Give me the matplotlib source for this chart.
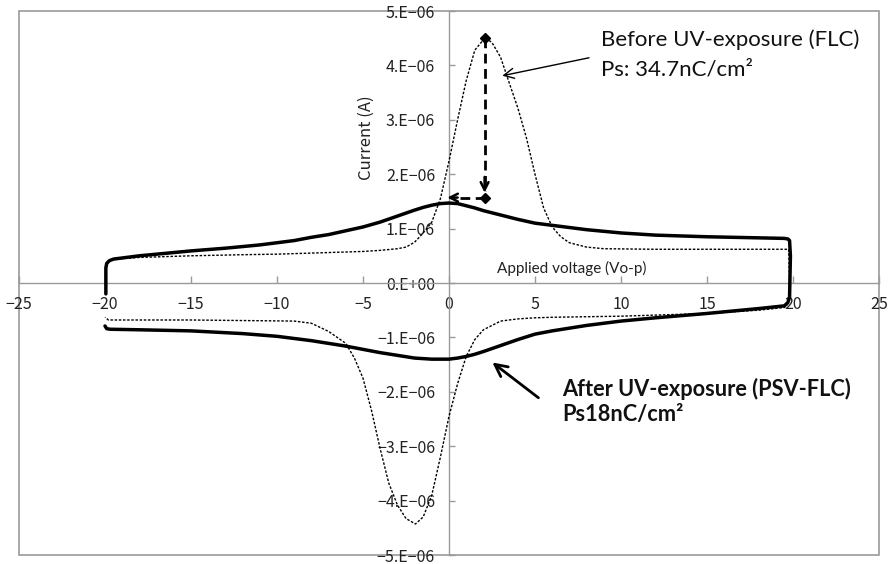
import matplotlib
matplotlib.use("Agg")
import matplotlib.pyplot as plt
from matplotlib.patches import Rectangle

# after UV-exposure (PSV-FLC), solid loop, current in 1e-6 A
v_after = [-19.95, -19.95, -19.9, -19.75, -19.5, -19, -18, -17, -15, -13, -12, -11, -10, -9, -8,
           -7, -6, -5, -4, -3, -2, -1.5, -1, -0.5, 0,
           0.5, 1, 1.5, 2, 3, 4, 5, 6, 7, 8, 10, 12, 15, 18, 19.5, 19.7, 19.8, 19.85, 19.8, 19.7, 19.5,
           18, 15, 12, 10, 8, 7, 6, 5, 4, 3, 2, 1.5, 1, 0.5, 0, -1, -2, -3, -4, -5, -6, -7, -8, -10,
           -12, -15, -18, -19.7, -19.9, -20.0]
i_after = [-0.2, 0.28, 0.36, 0.41, 0.44, 0.46, 0.50, 0.53, 0.59, 0.64, 0.67, 0.70, 0.74, 0.78, 0.84,
           0.89, 0.96, 1.03, 1.12, 1.23, 1.34, 1.39, 1.43, 1.46, 1.47,
           1.46, 1.42, 1.38, 1.33, 1.25, 1.17, 1.10, 1.06, 1.02, 0.98, 0.92, 0.88, 0.85, 0.83, 0.82, 0.81, 0.78, 0.5, -0.26, -0.36, -0.42,
           -0.47, -0.56, -0.64, -0.70, -0.78, -0.83, -0.88, -0.94, -1.04, -1.15, -1.26, -1.31, -1.35, -1.38, -1.40, -1.40, -1.38, -1.33, -1.28, -1.22, -1.16, -1.11, -1.06, -0.98,
           -0.93, -0.88, -0.86, -0.85, -0.84, -0.79]

# before UV-exposure (FLC), dashed loop
v_before = [-19.8, -19.5, -18, -15, -12, -10, -8, -6, -5, -4, -3, -2.5, -2, -1.5, -1, -0.5, 0,
            0.5, 1, 1.5, 2.1, 2.5, 3, 3.5, 4, 4.5, 5, 5.5, 6, 6.5, 7, 8, 9, 12, 15, 19.75,
            19.8, 19.75, 19.5, 18, 15, 12, 10, 8, 6, 5, 4, 3, 2.5, 2, 1.5, 1, 0.5, 0, -0.5,
            -1, -1.5, -1.95, -2.5, -3, -3.5, -4, -4.5, -5, -5.5, -6, -6.5, -7, -8, -9, -12,
            -15, -18, -19.8, -20.0]
i_before = [0.40, 0.44, 0.47, 0.50, 0.52, 0.53, 0.55, 0.57, 0.58, 0.60, 0.63, 0.66, 0.75, 0.92, 1.12, 1.55, 2.24,
            3.0, 3.72, 4.28, 4.51, 4.42, 4.15, 3.68, 3.22, 2.67, 2.0, 1.38, 1.03, 0.85, 0.74, 0.66, 0.63, 0.62, 0.62, 0.62,
            0.0, -0.36, -0.45, -0.50, -0.56, -0.59, -0.61, -0.62, -0.63, -0.64, -0.66, -0.70, -0.78, -0.86, -1.04, -1.35, -1.85, -2.45, -3.2,
            -3.9, -4.3, -4.43, -4.33, -4.08, -3.68, -3.05, -2.35, -1.75, -1.38, -1.11, -1.0, -0.89, -0.74, -0.70, -0.69,
            -0.68, -0.68, -0.68, -0.63]

x_ticks = [-25, -20, -15, -10, -5, 0, 5, 10, 15, 20, 25]
y_ticks = [-5e-6, -4e-6, -3e-6, -2e-6, -1e-6, 0, 1e-6, 2e-6, 3e-6, 4e-6, 5e-6]
y_labels = ["\u22125.E\u221206", "\u22124.E\u221206", "\u22123.E\u221206", "\u22122.E\u221206",
            "\u22121.E\u221206", "0.E+00", "1.E\u221206", "2.E\u221206", "3.E\u221206",
            "4.E\u221206", "5.E\u221206"]

ps_peak = 4.51e-6
ps_base = 1.57e-6
ps_v = 2.07

grey = "#9a9a9a"
tick_font = ["Noto Sans CJK JP", "DejaVu Sans"]

fig = plt.figure(figsize=(8.89, 5.64), dpi=100)
ax = fig.add_axes([19 / 889, 1 - 555 / 564, 860 / 889, 544 / 564])

ax.plot(v_before, [c * 1e-6 for c in i_before], color="black", lw=1.0,
        ls=(0, (1.8, 1.2)), zorder=3)
ax.plot(v_after, [c * 1e-6 for c in i_after], color="black", lw=2.5,
        solid_joinstyle="round", solid_capstyle="round", zorder=4)

ax.set_xlim(-25, 25)
ax.set_ylim(-5e-6, 5e-6)

# axis lines through the origin, plus the outer frame
for s in ["top", "right"]:
    ax.spines[s].set_visible(False)
for s in ["left", "bottom"]:
    ax.spines[s].set_position(("data", 0))
    ax.spines[s].set_color(grey)
    ax.spines[s].set_linewidth(1.0)
ax.add_patch(Rectangle((0, 0), 1, 1, transform=ax.transAxes, fill=False,
                       edgecolor=grey, lw=1.2, clip_on=False, zorder=1))

ax.set_xticks(x_ticks)
ax.set_xticklabels([str(t).replace("-", "\u2212") for t in x_ticks])
ax.set_yticks(y_ticks)
ax.set_yticklabels(y_labels)
ax.tick_params(axis="x", direction="in", length=5, width=1, color=grey, pad=9,
               labelsize=11.5)
ax.tick_params(axis="y", direction="in", length=4, width=1, color=grey, pad=10,
               labelsize=11.5)
for lab in ax.get_xticklabels() + ax.get_yticklabels():
    lab.set_family(tick_font)
    lab.set_color("#222222")

ax.text(-4.83, 2.68e-6, "Current (A)", rotation=90, ha="center", va="center",
        fontsize=12, family=tick_font, color="#222222")
ax.text(7.15, 0.26e-6, "Applied voltage (Vo-p)", ha="center", va="center",
        fontsize=11, family="Lato", color="#222222")

# Ps markers and dashed arrows
ax.plot([ps_v, ps_v], [ps_peak, ps_base], ls="none", marker="D", ms=5,
        color="black", zorder=5)
ax.plot([ps_v, ps_v], [ps_peak, 1.7e-6], color="black", lw=2, ls=(0, (3.5, 2)), zorder=5)
ax.annotate("", xy=(ps_v, 1.66e-6), xytext=(ps_v, 1.95e-6),
            arrowprops=dict(arrowstyle="->", lw=1.8, color="black",
                            mutation_scale=14, shrinkA=0, shrinkB=0))
ax.plot([ps_v, 0.1], [ps_base, ps_base], color="black", lw=2, ls=(0, (3.5, 2)), zorder=5)
ax.annotate("", xy=(-0.1, ps_base), xytext=(0.5, ps_base),
            arrowprops=dict(arrowstyle="->", lw=1.8, color="black",
                            mutation_scale=14, shrinkA=0, shrinkB=0))

# labels for the two curves
ax.annotate("", xy=(3.1, 3.81e-6), xytext=(8.14, 4.14e-6),
            arrowprops=dict(arrowstyle="->", lw=1.0, color="black",
                            mutation_scale=18, shrinkA=0, shrinkB=0))
ax.text(8.82, 4.47e-6, "Before UV-exposure (FLC)", ha="left", va="center",
        fontsize=16, family="Lato", color="#111111")
ax.text(8.82, 3.93e-6, "Ps: 34.7nC/cm\u00b2", ha="left", va="center",
        fontsize=16, family="Lato", color="#111111")

ax.annotate("", xy=(2.52, -1.46e-6), xytext=(5.2, -2.11e-6),
            arrowprops=dict(arrowstyle="->", lw=2.0, color="black",
                            mutation_scale=22, shrinkA=0, shrinkB=0))
ax.text(6.59, -1.95e-6, "After UV-exposure (PSV-FLC)", ha="left", va="center",
        fontsize=15.7, family="Lato", fontweight="bold", color="#111111")
ax.text(6.59, -2.41e-6, "Ps18nC/cm\u00b2", ha="left", va="center",
        fontsize=15.7, family="Lato", fontweight="bold", color="#111111")

fig.savefig("out.png", dpi=100)
